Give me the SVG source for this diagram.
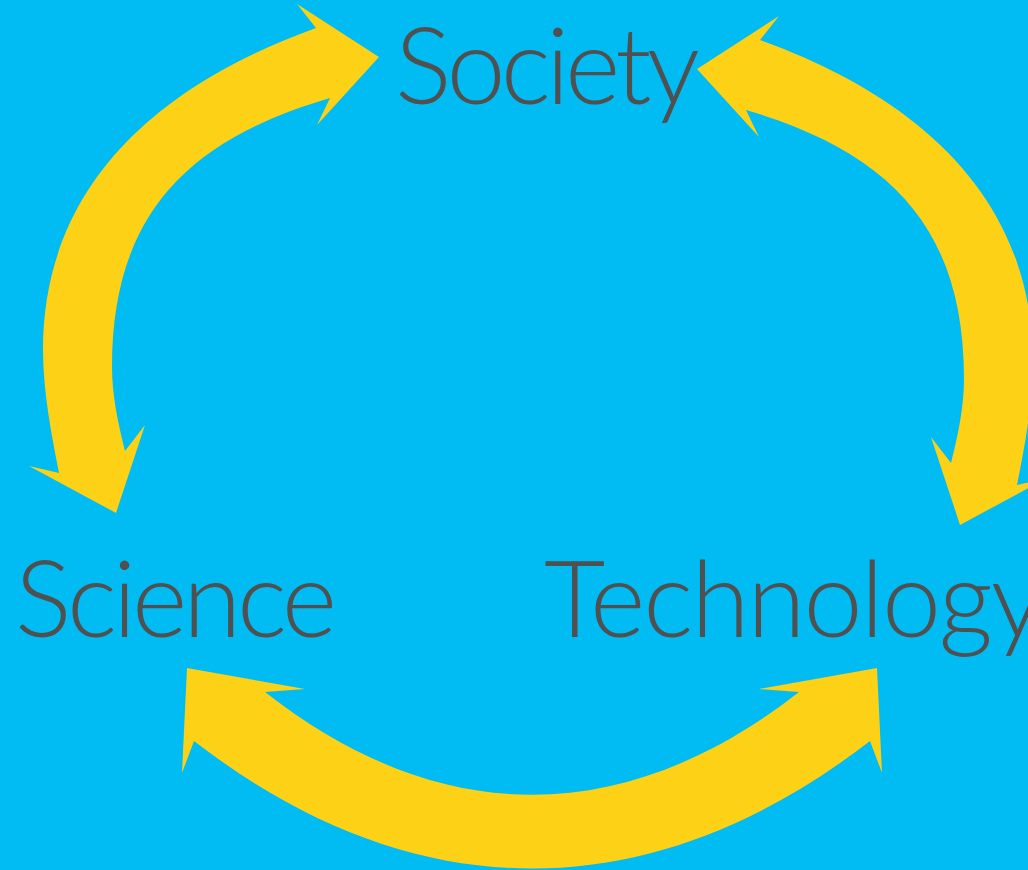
<svg xmlns="http://www.w3.org/2000/svg" xmlns:xlink="http://www.w3.org/1999/xlink" width="1028" height="870" viewBox="0 0 1028 870">
  <style>
    .arrow { fill: #FCD116; stroke: none; }
    .label { font-family: "Lato", "Open Sans", "Liberation Sans", sans-serif; font-weight: 300; font-size: 106px; fill: #505050; }
  </style>
  <defs>
    <!-- curved arrow from Society down to Science; mirrored for the Technology side -->
    <path id="arcLeft" d="M379,57 L317,125 L330,98 C185,140.5 112,217 112,367 C112,395 118,423 125,451 L145,425 L116,513 L29,466 L59,473 C51,433 43,390 43,350 C43,180 166,82 316,28 L297,4 Z"/>
  </defs>
  <rect width="1028" height="870" fill="#00BCF2"/>

  <g id="connectors">
    <use xlink:href="#arcLeft" href="#arcLeft" class="arrow"/>
    <use xlink:href="#arcLeft" href="#arcLeft" class="arrow" transform="translate(1076,12) scale(-1,1)"/>
    <path class="arrow" d="M187,668 L305,689 L265,692 C440,829 624,829 799,692 L759,689 L877,668 L882,773 L870,741 C650,911 414,911 194,741 L182,773 Z"/>
  </g>

  <g id="society">
    <text class="label" x="395" y="104" textLength="305">Society</text>
  </g>
  <g id="science">
    <text class="label" x="15" y="637" textLength="322">Science</text>
  </g>
  <g id="technology">
    <text class="label" x="544" y="637" textLength="500">Technology</text>
  </g>
</svg>
